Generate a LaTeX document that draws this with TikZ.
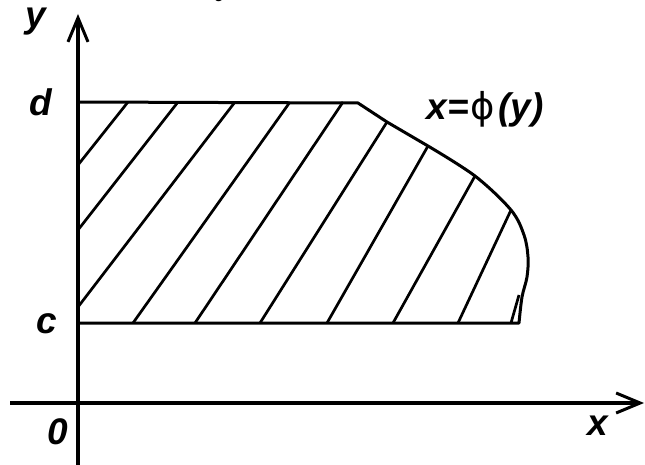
\documentclass[tikz,border=0pt]{standalone}
\usepackage{fontspec}
\setmainfont{Liberation Sans}
\newfontfamily\greekfont{DejaVu Sans}
\usetikzlibrary{arrows.meta}
\begin{document}
\begin{tikzpicture}[x=1pt,y=-1pt,
  axis/.style={line width=3.2pt,-{Straight Barb[length=24pt,width=20pt,line width=3pt]}},
  bound/.style={line width=3pt,line join=round},
  hatch/.style={line width=2.7pt},
  lbl/.style={font=\fontsize{37}{40}\selectfont\bfseries\itshape,inner sep=0pt}]
\useasboundingbox (0,0) rectangle (645,465);
% axes
\coordinate (ybot) at (78,465);
\coordinate (ytop) at (78,14);
\coordinate (xl) at (10,403);
\coordinate (xr) at (644,403);
\draw[axis] (ybot) -- (ytop);
\draw[axis] (xl) -- (xr);
% region boundary
\draw[bound] (78,102) -- (358,103) -- (387,122) -- (428,146)
  plot[smooth,tension=0.55] coordinates {(428,146) (475,176) (511,210) (524,235) (528,257) (527,277) (522,297) (519,323)}
  -- (78,323);
% hatching
\draw[hatch] (78,165) -- (128,102);
\draw[hatch] (78,230) -- (178,102);
\draw[hatch] (78,307) -- (235,102);
\draw[hatch] (133,323) -- (290,102);
\draw[hatch] (195,323) -- (343,102);
\draw[hatch] (260,323) -- (387,122);
\draw[hatch] (327,323) -- (428,146);
\draw[hatch] (393,323) -- (475,176);
\draw[hatch] (458,323) -- (511,210);
\draw[hatch] (511,323) -- (519,295);
% labels
\node[lbl] (ly) at (36,22) {y};
\node[lbl] (ld) at (41,102) {d};
\node[lbl] (lc) at (47,324) {c};
\node[lbl] (lo) at (58,432) {0};
\node[lbl] (lx) at (598,426) {x};
\node[lbl,anchor=base] (lf) at (485,120) {x={\kern2pt\greekfont\mdseries\upshape ϕ\kern3pt}(y)};
\node[font=\fontsize{20}{22}\selectfont\itshape,inner sep=0pt] (top) at (219,-4) {c};
\end{tikzpicture}
\end{document}
